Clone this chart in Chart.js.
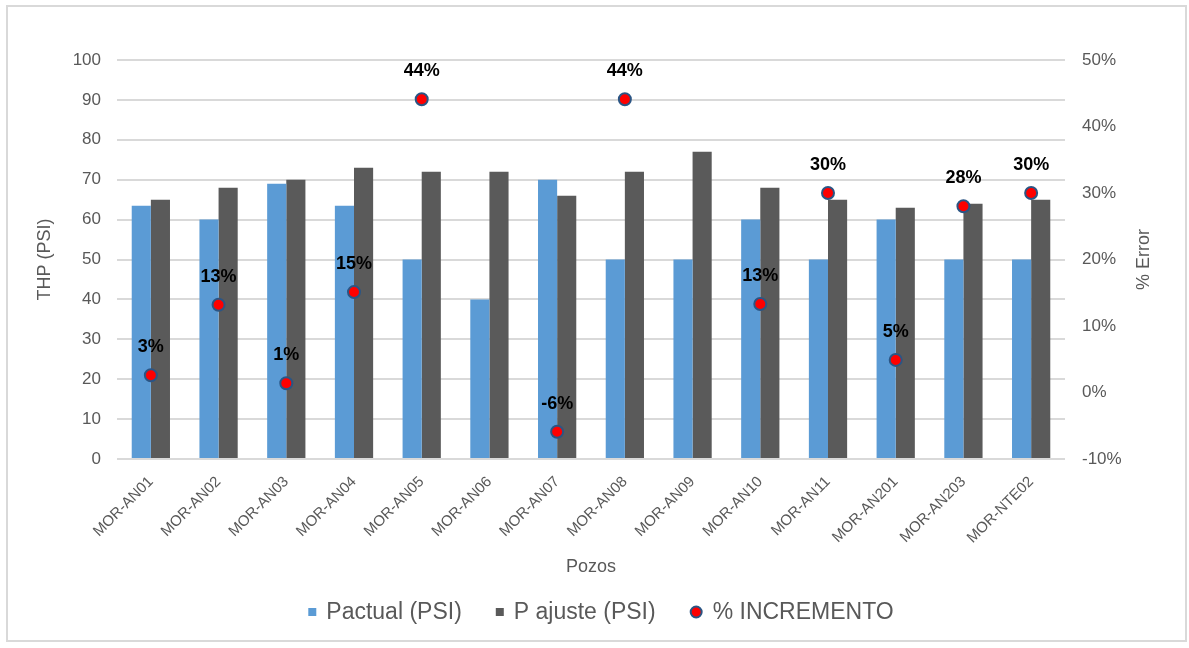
<!DOCTYPE html>
<html lang="es">
<head>
<meta charset="utf-8">
<title>THP por pozo</title>
<script src="https://cdn.jsdelivr.net/npm/chart.js@4/dist/chart.umd.min.js"></script>
<style>
  html, body { margin: 0; padding: 0; background: #fff; }
  #wrap { position: relative; width: 1189px; height: 648px; }
</style>
</head>
<body>
<div id="wrap"><canvas id="thpChart" width="1189" height="648"></canvas></div>
<script>
// Datos por pozo
const pozos = ['MOR-AN01', 'MOR-AN02', 'MOR-AN03', 'MOR-AN04', 'MOR-AN05', 'MOR-AN06', 'MOR-AN07',
  'MOR-AN08', 'MOR-AN09', 'MOR-AN10', 'MOR-AN11', 'MOR-AN201', 'MOR-AN203', 'MOR-NTE02'];
const pActual = [63.5, 60, 69, 63.5, 50, 40, 70, 50, 50, 60, 50, 60, 50, 50];
const pAjuste = [65, 68, 70, 73, 72, 72, 66, 72, 77, 68, 65, 63, 64, 65];
// % incremento (los pozos fuera de escala no se grafican)
const incremento = [2.6, 13.2, 1.4, 15.1, 44.1, null, -5.9, 44.1, null, 13.3, 30.0, 4.9, 28.0, 30.0];

const FONT = "'Liberation Sans', Arial, sans-serif";
const GRIS = '#595959';
const AZUL = '#5b9bd5';
const OSCURO = '#5a5a5a';
const ROJO = '#ff0000';
const BORDE_PUNTO = '#2b5584';

// Marco exterior
const marco = {
  id: 'marco',
  beforeDraw(chart) {
    const ctx = chart.ctx;
    ctx.save();
    ctx.fillStyle = '#fff';
    ctx.fillRect(0, 0, chart.width, chart.height);
    ctx.strokeStyle = '#d9d9d9';
    ctx.lineWidth = 2;
    ctx.strokeRect(7, 6, 1179, 635);
    ctx.restore();
  }
};

// Etiquetas de porcentaje sobre los puntos
const etiquetas = {
  id: 'etiquetas',
  afterDatasetsDraw(chart) {
    const ctx = chart.ctx;
    const meta = chart.getDatasetMeta(2);
    ctx.save();
    ctx.font = `bold 18px ${FONT}`;
    ctx.fillStyle = '#000';
    ctx.textAlign = 'center';
    ctx.textBaseline = 'middle';
    meta.data.forEach((pt, i) => {
      const v = incremento[i];
      if (v === null || pt.skip) return;
      ctx.fillText(Math.round(v) + '%', pt.x, pt.y - 28);
    });
    ctx.restore();
  }
};

// Titulo del eje derecho (lectura hacia arriba) y leyenda inferior
const extras = {
  id: 'extras',
  afterDraw(chart) {
    const ctx = chart.ctx;
    const area = chart.chartArea;
    ctx.save();
    ctx.fillStyle = GRIS;
    ctx.font = `18px ${FONT}`;
    ctx.textAlign = 'center';
    ctx.textBaseline = 'middle';
    ctx.translate(1144, (area.top + area.bottom) / 2);
    ctx.rotate(-Math.PI / 2);
    ctx.fillText('% Error', 0, 0);
    ctx.restore();

    const items = chart.data.datasets.map(ds => ({
      text: ds.label,
      tipo: ds.type === 'line' ? 'punto' : 'caja',
      color: ds.type === 'line' ? ds.pointBackgroundColor : ds.backgroundColor
    }));
    ctx.save();
    ctx.font = `23px ${FONT}`;
    ctx.textBaseline = 'middle';
    const gapTexto = 10, gapItem = 34;
    let total = 0;
    items.forEach(it => {
      it.mw = it.tipo === 'caja' ? 8 : 13;
      it.tw = ctx.measureText(it.text).width;
      total += it.mw + gapTexto + it.tw;
    });
    total += gapItem * (items.length - 1);
    let x = 601 - total / 2;
    const y = 612;
    items.forEach(it => {
      if (it.tipo === 'caja') {
        ctx.fillStyle = it.color;
        ctx.fillRect(x, y - 4, 8, 8);
      } else {
        ctx.beginPath();
        ctx.arc(x + 6.5, y, 5.5, 0, Math.PI * 2);
        ctx.fillStyle = it.color;
        ctx.fill();
        ctx.lineWidth = 2;
        ctx.strokeStyle = BORDE_PUNTO;
        ctx.stroke();
      }
      x += it.mw + gapTexto;
      ctx.fillStyle = GRIS;
      ctx.fillText(it.text, x, y + 1);
      x += it.tw + gapItem;
    });
    ctx.restore();
  }
};

new Chart(document.getElementById('thpChart'), {
  data: {
    labels: pozos,
    datasets: [
      {
        type: 'bar',
        label: 'Pactual (PSI)',
        data: pActual,
        backgroundColor: AZUL,
        yAxisID: 'y',
        order: 1,
        categoryPercentage: 0.565,
        barPercentage: 1
      },
      {
        type: 'bar',
        label: 'P ajuste (PSI)',
        data: pAjuste,
        backgroundColor: OSCURO,
        yAxisID: 'y',
        order: 1,
        categoryPercentage: 0.565,
        barPercentage: 1
      },
      {
        type: 'line',
        label: '% INCREMENTO',
        data: incremento,
        yAxisID: 'y1',
        order: 0,
        showLine: false,
        pointRadius: 6,
        pointBorderWidth: 2,
        pointBackgroundColor: ROJO,
        pointBorderColor: BORDE_PUNTO
      }
    ]
  },
  options: {
    responsive: false,
    animation: false,
    layout: { padding: { top: 60, bottom: 66, left: 0, right: 0 } },
    plugins: {
      legend: { display: false },
      tooltip: { enabled: false }
    },
    scales: {
      x: {
        grid: { display: false },
        border: { display: false },
        ticks: {
          color: GRIS,
          font: { family: FONT, size: 15 },
          maxRotation: 45,
          minRotation: 45,
          padding: 6
        },
        title: {
          display: true,
          text: 'Pozos',
          color: GRIS,
          font: { family: FONT, size: 18 },
          padding: { top: 4, bottom: 4 }
        },
        afterFit(scale) { scale.height = 123; }
      },
      y: {
        position: 'left',
        min: 0,
        max: 100,
        ticks: {
          stepSize: 10,
          color: GRIS,
          font: { family: FONT, size: 17 },
          padding: 16
        },
        grid: { color: '#d9d9d9', lineWidth: 2, drawTicks: false },
        border: { display: false },
        title: {
          display: true,
          text: 'THP (PSI)',
          color: GRIS,
          font: { family: FONT, size: 18 },
          padding: { top: 34, bottom: 0 }
        },
        afterFit(scale) { scale.width = 117; }
      },
      y1: {
        position: 'right',
        min: -10,
        max: 50,
        ticks: {
          stepSize: 10,
          color: GRIS,
          font: { family: FONT, size: 17 },
          padding: 17,
          callback: v => v + '%'
        },
        grid: { display: false, drawTicks: false },
        border: { display: false },
        afterFit(scale) { scale.width = 124; }
      }
    }
  },
  plugins: [marco, etiquetas, extras]
});
</script>
</body>
</html>
